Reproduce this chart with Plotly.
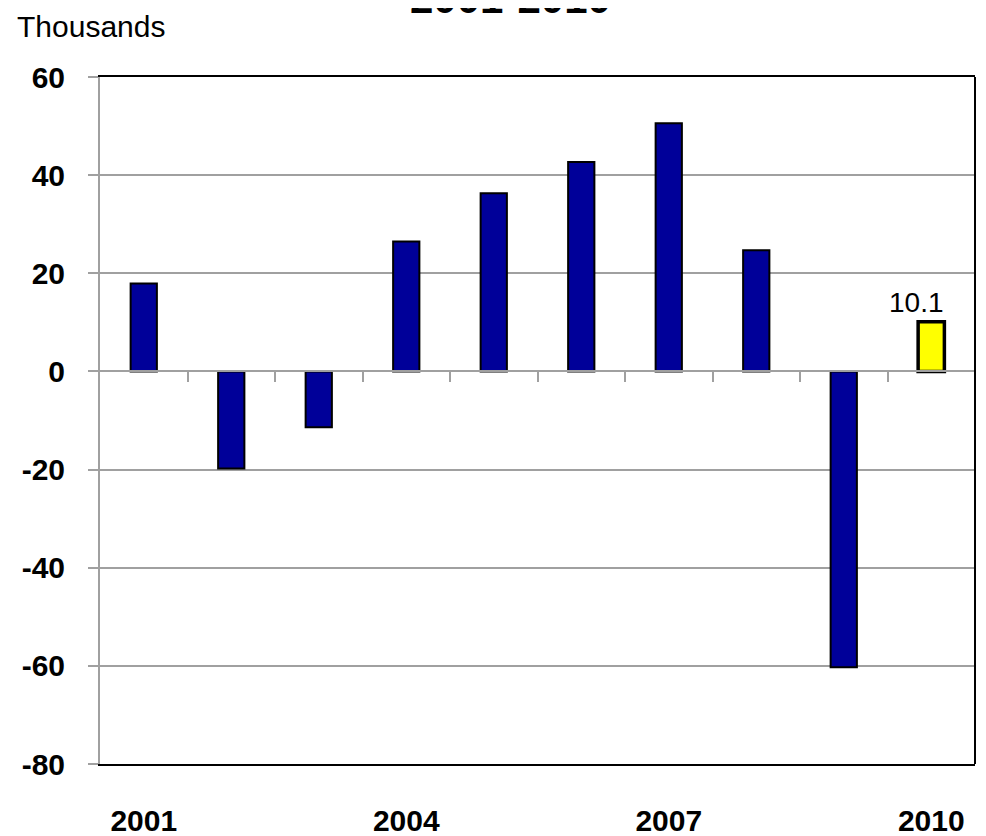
import plotly.graph_objects as go

years = [2001, 2002, 2003, 2004, 2005, 2006, 2007, 2008, 2009, 2010]
values = [17.9, -19.8, -11.4, 26.5, 36.3, 42.7, 50.6, 24.7, -60.3, 10.1]
bar_colors = ["#000099"] * 9 + ["#FFFF00"]
bar_line_widths = [2] * 9 + [3.5]
x_tick_years = [2001, 2004, 2007, 2010]
y_ticks = [-80, -60, -40, -20, 0, 20, 40, 60]
y_tick_text = ["-80", "-60", "-40", "-20", "0", "20", "40", "60"]
boundaries = [y + 0.5 for y in years[:-1]]

FONT = "Liberation Sans, Arial, sans-serif"
GRID = "#a0a0a0"

fig = go.Figure()
fig.add_trace(go.Bar(
    x=years, y=values, width=0.3,
    marker=dict(color=bar_colors, line=dict(color="black", width=bar_line_widths)),
    showlegend=False, xaxis="x", yaxis="y", cliponaxis=False,
))
# invisible trace to activate the zero-line axis
fig.add_trace(go.Scatter(x=[years[0]], y=[0], mode="markers", marker=dict(opacity=0),
                         showlegend=False, hoverinfo="skip", xaxis="x2", yaxis="y"))

fig.update_layout(
    width=978, height=828,
    margin=dict(l=92, r=11, t=69, b=72),
    paper_bgcolor="white", plot_bgcolor="white",
    font=dict(family=FONT, color="black"),
    xaxis=dict(
        range=[2000.5, 2010.5], tickmode="array", tickvals=x_tick_years,
        ticktext=[str(v) for v in x_tick_years], automargin=False,
        tickfont=dict(family=FONT, size=30, color="black", weight="bold"),
        showgrid=False, zeroline=False, ticks="", ticklabelstandoff=29,
        showline=True, linecolor="black", linewidth=2, mirror=True,
    ),
    xaxis2=dict(
        overlaying="x", anchor="free", position=80 / 140, automargin=False,
        range=[2000.5, 2010.5], tickmode="array", tickvals=boundaries,
        showticklabels=False, ticks="outside", ticklen=10, tickwidth=1.5, tickcolor=GRID,
        showline=True, linecolor=GRID, linewidth=2, showgrid=False, zeroline=False,
    ),
    yaxis=dict(
        range=[-80, 60], tickmode="array", tickvals=y_ticks, ticktext=y_tick_text,
        tickfont=dict(family=FONT, size=30, color="black", weight="bold"),
        showgrid=True, gridcolor=GRID, gridwidth=1.5, zeroline=False, automargin=False,
        ticks="outside", ticklen=10, tickwidth=1.5, tickcolor=GRID,
        showline=True, linecolor=GRID, linewidth=2, ticklabelstandoff=17,
    ),
    shapes=[dict(type="line", xref="paper", yref="paper", x0=1, x1=1, y0=0, y1=1,
                 line=dict(color="black", width=2))],
    annotations=[
        dict(text=f"{values[-1]}", xref="x", yref="y", x=years[-1], y=values[-1],
             xanchor="center", yanchor="bottom", xshift=-15, yshift=2, showarrow=False,
             font=dict(family=FONT, size=28, color="black")),
        dict(text="Thousands", xref="paper", yref="paper", x=(15 - 100) / 875, y=1.074,
             xanchor="left", yanchor="middle", showarrow=False,
             font=dict(family=FONT, size=30, color="black")),
        dict(text="<b>2001-2010</b>", xref="paper", yref="paper", x=0.4686, y=1.114,
             xanchor="center", yanchor="middle", showarrow=False,
             font=dict(family=FONT, size=42, color="black")),
    ],
)

fig.write_html("out.html")
